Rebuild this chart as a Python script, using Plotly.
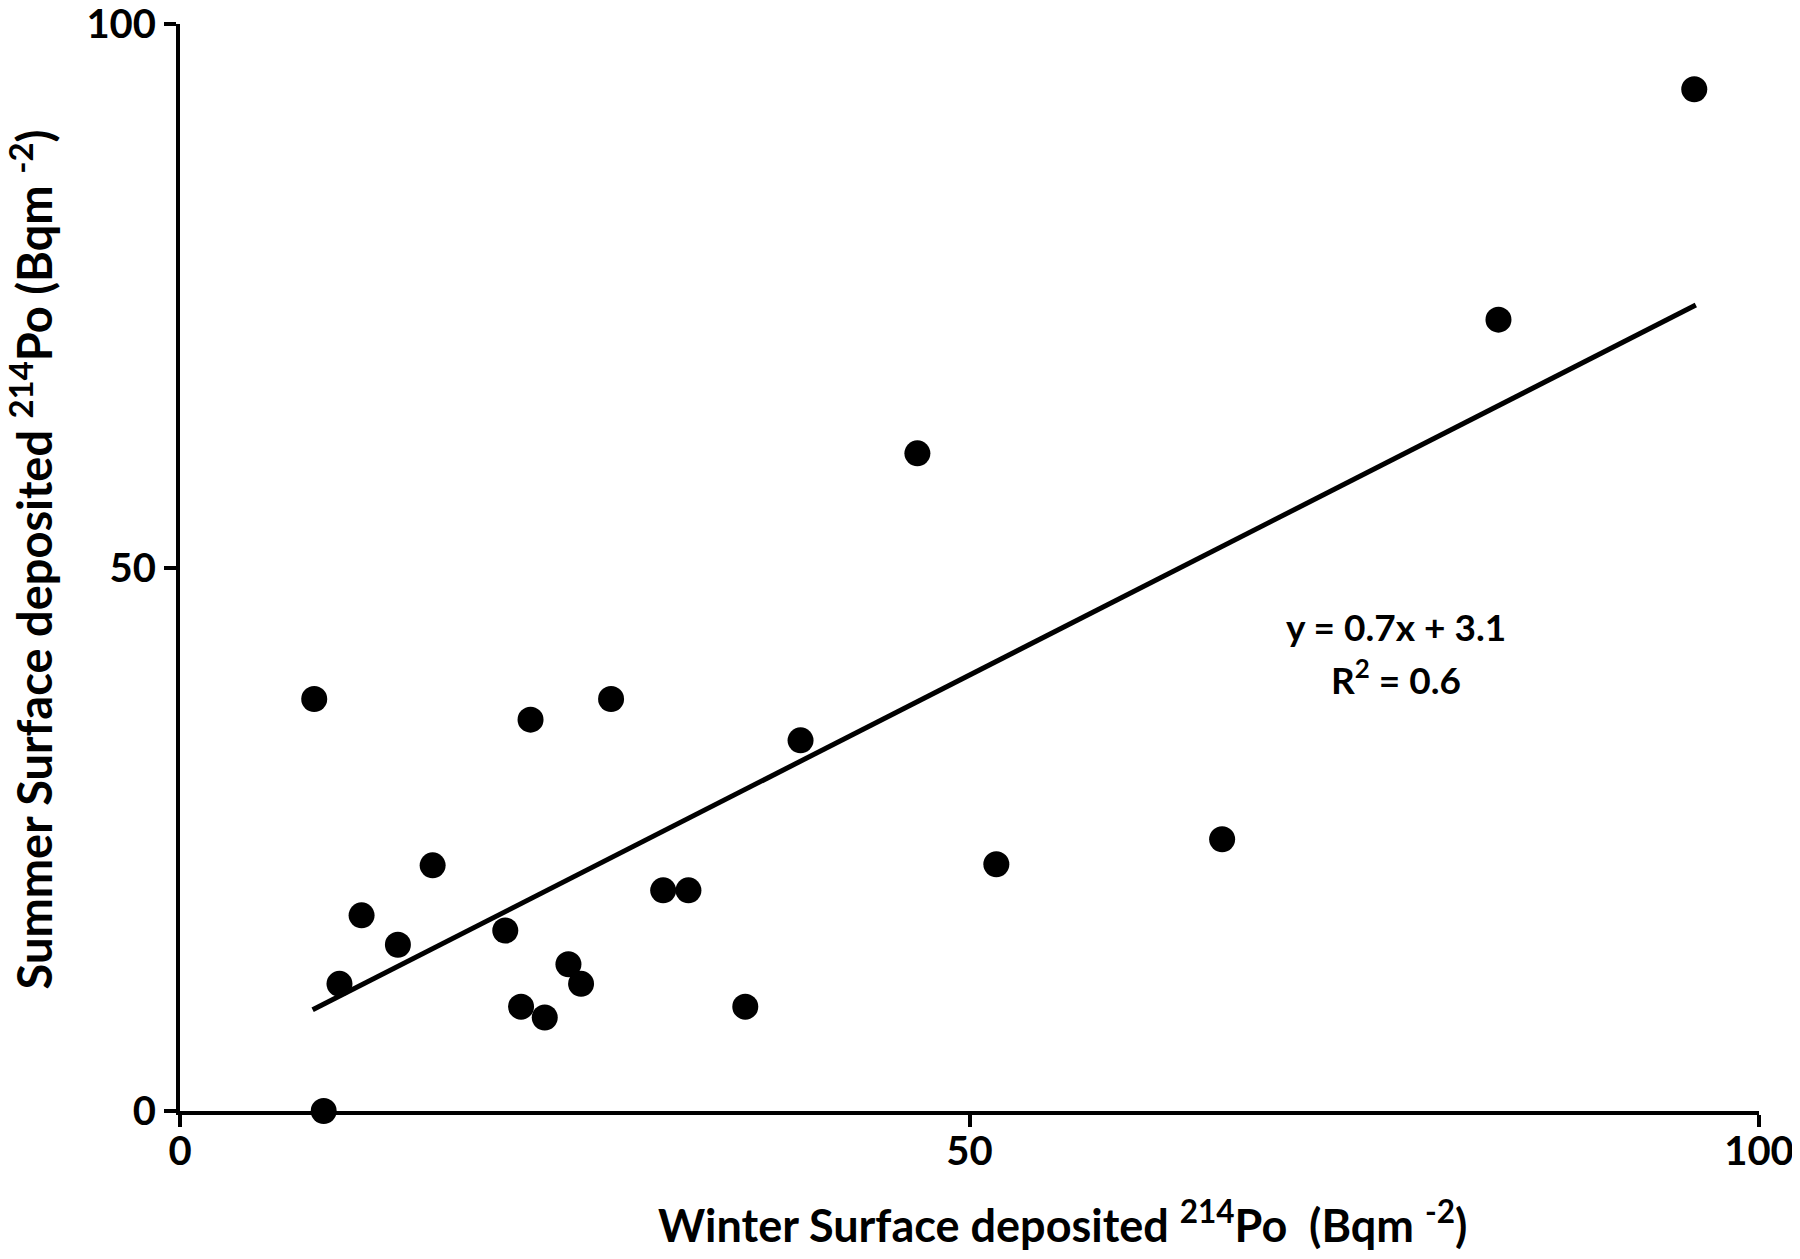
import plotly.graph_objects as go

# winter vs summer surface deposited 214Po (Bq m-2)
winter = [8.5, 9.1, 10.1, 11.5, 13.8, 16.0, 20.6, 21.6, 22.2, 23.1, 24.6,
          25.4, 27.3, 30.6, 32.2, 35.8, 39.3, 46.7, 51.7, 66.0, 83.5, 95.9]
summer = [37.9, 0.0, 11.7, 18.0, 15.3, 22.6, 16.6, 9.6, 36.0, 8.6, 13.5,
          11.7, 37.9, 20.3, 20.3, 9.6, 34.1, 60.5, 22.7, 25.0, 72.8, 94.0]

# linear fit drawn in the figure
fit_slope = 0.74
fit_intercept = 3.1
fit_x = [8.4, 96.0]
fit_y = [fit_intercept + fit_slope * x for x in fit_x]

tick_vals = [0, 50, 100]

FONT = 'Lato'

fig = go.Figure()
fig.add_trace(go.Scatter(
    x=fit_x, y=fit_y, mode='lines',
    line={'color': 'black', 'width': 5},
    hoverinfo='skip',
))
fig.add_trace(go.Scatter(
    x=winter, y=summer, mode='markers',
    marker={'color': 'black', 'size': 26},
    cliponaxis=False,
))

fig.add_annotation(
    x=77.0, y=44.6, xref='x', yref='y', showarrow=False,
    text='<b>y = 0.7x + 3.1</b>', font={'family': FONT, 'size': 37, 'color': 'black'},
)
fig.add_annotation(
    x=77.0, y=39.9, xref='x', yref='y', showarrow=False,
    text='<b>R<sup>2</sup> = 0.6</b>', font={'family': FONT, 'size': 37, 'color': 'black'},
)
# axis titles as annotations so they can sit where the original has them
fig.add_annotation(
    x=0.559, y=-0.102, xref='paper', yref='paper', showarrow=False,
    xanchor='center', yanchor='middle',
    text='<b>Winter Surface deposited <sup>214</sup>Po  (Bqm <sup>-2</sup>)</b>',
    font={'family': FONT, 'size': 45, 'color': 'black'},
)
fig.add_annotation(
    x=-0.094, y=0.507, xref='paper', yref='paper', showarrow=False,
    xanchor='center', yanchor='middle', textangle=-90,
    text='<b>Summer Surface deposited <sup>214</sup>Po (Bqm <sup>-2</sup>)</b>',
    font={'family': FONT, 'size': 47, 'color': 'black'},
)

axis_common = {
    'range': [0, 100],
    'tickvals': tick_vals,
    'showgrid': False,
    'zeroline': False,
    'showline': True,
    'linecolor': 'black',
    'linewidth': 4,
    'ticks': 'outside',
    'ticklen': 12,
    'tickwidth': 4,
    'tickcolor': 'black',
    'automargin': False,
    'ticklabeloverflow': 'allow',
    'tickfont': {'family': FONT, 'size': 40, 'color': 'black', 'weight': 'bold'},
}

# page body adds an 8px margin, so the figure is a little smaller than the window
fig.update_layout(
    width=1784, height=1243,
    paper_bgcolor='white', plot_bgcolor='white',
    showlegend=False,
    margin={'l': 172, 'r': 33, 't': 16, 'b': 140},
    xaxis={**axis_common, 'ticklabelstandoff': -10},
    yaxis={**axis_common},
)

fig.write_html('out.html')
